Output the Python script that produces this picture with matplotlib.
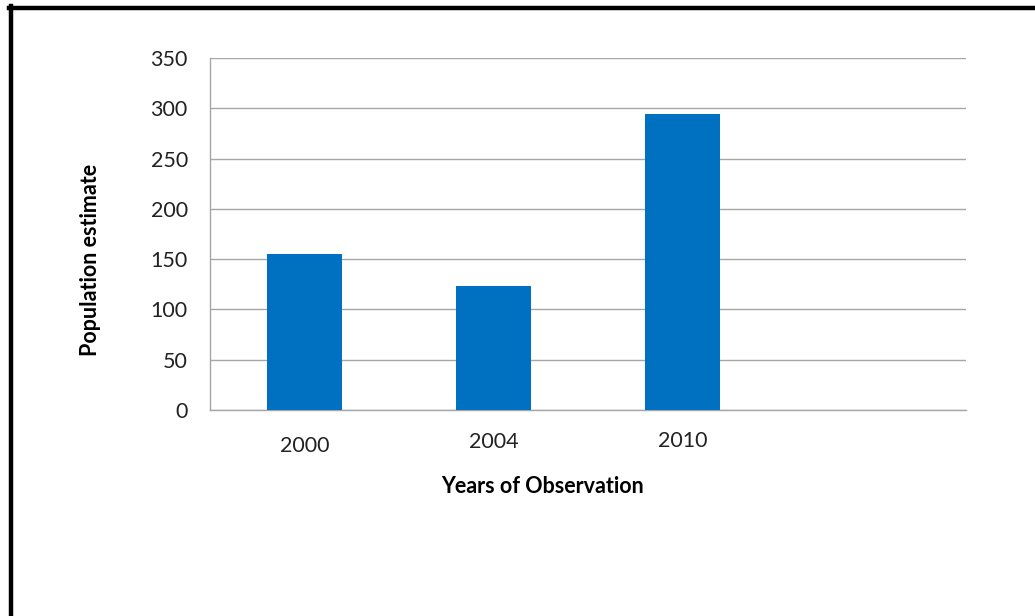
import matplotlib
matplotlib.use("Agg")
import matplotlib.pyplot as plt
from matplotlib.lines import Line2D
from matplotlib.transforms import ScaledTranslation

categories = ["2000", "2004", "2010", ""]
values = [155, 123, 294, None]
y_ticks = [0, 50, 100, 150, 200, 250, 300, 350]

plt.rcParams['font.family'] = ['Lato', 'DejaVu Sans']

W, H = 1035, 616
fig = plt.figure(figsize=(W / 100, H / 100), dpi=100)
ax = fig.add_axes([210 / W, (H - 410) / H, (966 - 210) / W, (410 - 58) / H])

xs = list(range(len(categories)))
bx = [x for x, v in zip(xs, values) if v is not None]
bv = [v for v in values if v is not None]
ax.bar(bx, bv, width=0.4, color="#0070C0", zorder=3)

ax.set_xlim(-0.5, len(categories) - 0.5)
ax.set_ylim(0, 350)
ax.set_yticks(y_ticks)
ax.set_yticklabels([str(t) for t in y_ticks], fontsize=15.5, color="#222222")
ax.set_xticks(xs)
ax.set_xticklabels(categories, fontsize=15.5, color="#222222")
ax.tick_params(axis="both", length=0)
ax.tick_params(axis="y", pad=16)
ax.tick_params(axis="x", pad=19)

# small vertical shifts seen in the reference labels
shifts = [0, -4, -5, 0]
for lab, dy in zip(ax.get_xticklabels(), shifts):
    lab.set_transform(lab.get_transform() + ScaledTranslation(0, -dy / 100, fig.dpi_scale_trans))

ax.grid(axis="y", color="#a6a6a6", linewidth=1.0, zorder=0)
for s in ["top", "right"]:
    ax.spines[s].set_visible(False)
for s in ["left", "bottom"]:
    ax.spines[s].set_color("#a6a6a6")
    ax.spines[s].set_linewidth(1.0)

ax.set_ylabel("Population estimate", fontsize=15.5, fontweight="bold")
ax.set_xlabel("Years of Observation", fontsize=15.5, fontweight="bold")
ax.yaxis.set_label_coords((101 - 210) / 756, (410 - 260) / 352)
ax.xaxis.set_label_coords((543 - 210) / 756, -(476 - 410) / 352)

# partial black frame (top and left edges)
fig.add_artist(Line2D([9 / W, 1.0], [(H - 8) / H, (H - 8) / H], color="black", linewidth=3.2, transform=fig.transFigure))
fig.add_artist(Line2D([11 / W, 11 / W], [0, (H - 6) / H], color="black", linewidth=3.2, transform=fig.transFigure))

fig.savefig("out.png", dpi=100)
